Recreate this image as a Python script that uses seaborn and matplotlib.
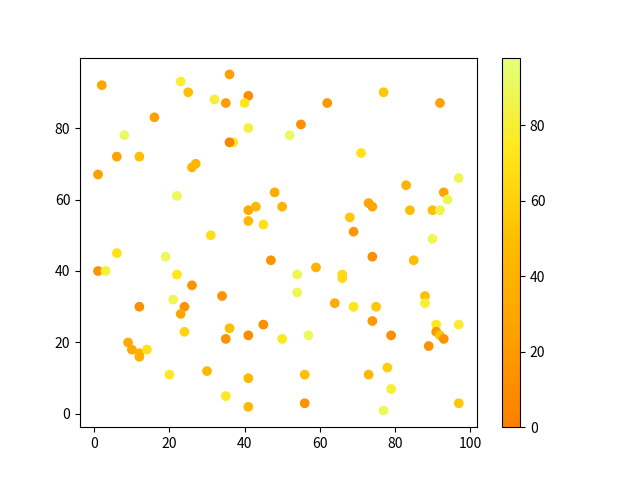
import matplotlib
matplotlib.use("Agg")
import matplotlib.pyplot as plt
import seaborn as sns
import numpy as np
import pandas as pd

x = [2, 23, 25, 36, 32, 35, 41, 40, 16, 8, 41, 52, 37, 36, 6, 12, 27, 26, 1, 22,
     48, 43, 41, 50, 41, 45, 31, 77, 62, 92, 55, 71, 97, 83, 93, 94, 73, 74, 84, 90,
     92, 68, 69, 90, 6, 19, 47, 1, 3, 22, 26, 34, 12, 21, 24, 23, 36, 45, 24, 35,
     41, 50, 9, 10, 12, 12, 14, 20, 30, 41, 35, 41, 74, 85, 54, 59, 66, 66, 54, 64,
     69, 75, 74, 88, 88, 91, 97, 91, 92, 93, 89, 79, 57, 78, 56, 73, 79, 56, 77, 97]
y = [92, 93, 90, 95, 88, 87, 89, 87, 83, 78, 80, 78, 76, 76, 72, 72, 70, 69, 67, 61,
     62, 58, 57, 58, 54, 53, 50, 90, 87, 87, 81, 73, 66, 64, 62, 60, 59, 58, 57, 57,
     57, 55, 51, 49, 45, 44, 43, 40, 40, 39, 36, 33, 30, 32, 30, 28, 24, 25, 23, 21,
     22, 21, 20, 18, 17, 16, 18, 11, 12, 10, 5, 2, 44, 43, 39, 41, 39, 38, 34, 31,
     30, 30, 26, 33, 31, 25, 25, 23, 22, 21, 19, 22, 22, 13, 11, 11, 7, 3, 1, 3]
colors = [30, 80, 50, 25, 80, 22, 10, 72, 25, 92, 82, 92, 75, 5, 27, 50, 42, 42, 25, 90,
          35, 45, 33, 42, 45, 70, 68, 55, 18, 25, 12, 70, 88, 40, 28, 88, 28, 28, 48, 50,
          85, 55, 18, 88, 70, 90, 15, 15, 82, 72, 15, 15, 12, 88, 15, 30, 50, 12, 62, 15,
          10, 75, 33, 33, 38, 38, 70, 75, 45, 45, 75, 45, 12, 48, 88, 40, 65, 65, 88, 35,
          72, 55, 20, 50, 80, 75, 78, 18, 55, 15, 15, 12, 90, 58, 50, 45, 80, 15, 90, 55]

df = pd.DataFrame({"x": x, "y": y, "c": colors})

plt.rcParams['font.family'] = ['Noto Sans CJK SC', 'DejaVu Sans']
fig, ax = plt.subplots(figsize=(6.4, 4.8), dpi=100)
vmin, vmax = 0, 98
sns.scatterplot(data=df, x="x", y="y", hue="c", palette="Wistia_r",
                hue_norm=(vmin, vmax), legend=False, s=36, linewidth=1,
                edgecolor="face", ax=ax)
ax.set_xlabel("")
ax.set_ylabel("")
sm = plt.cm.ScalarMappable(cmap="Wistia_r", norm=plt.Normalize(vmin, vmax))
sm.set_array([])
fig.colorbar(sm, ax=ax)
fig.savefig("out.png", dpi=100)
